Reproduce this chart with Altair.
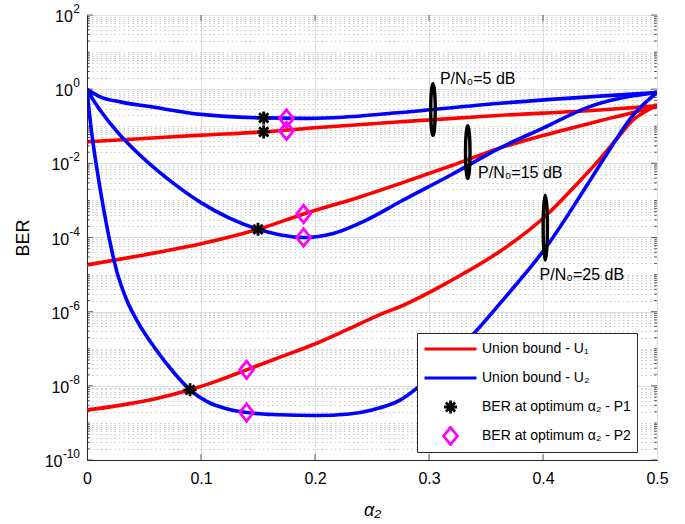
import altair as alt
import pandas as pd

# ---------------------------------------------------------------------------
# Union-bound BER curves versus the power-allocation factor alpha_2
# ---------------------------------------------------------------------------
U1 = "Union bound - U\u2081"
U2 = "Union bound - U\u2082"
P1 = "BER at optimum \u03b1\u2082 - P1"
P2 = "BER at optimum \u03b1\u2082 - P2"

# P/N0 = 5 dB
u1_5_x = [0, 0.05, 0.1, 0.155, 0.2, 0.275, 0.36, 0.45, 0.5]
u1_5_ber = [0.038, 0.0468, 0.0575, 0.0706, 0.0912, 0.132, 0.195, 0.275, 0.355]
u2_5_x = [0, 0.011, 0.03, 0.055, 0.1, 0.155, 0.19, 0.216, 0.275, 0.36, 0.45, 0.5]
u2_5_ber = [1.0, 0.631, 0.447, 0.339, 0.209, 0.168, 0.163, 0.170, 0.234, 0.410, 0.650, 0.805]

# P/N0 = 15 dB
u1_15_x = [0, 0.05, 0.1, 0.15, 0.19, 0.24, 0.275, 0.32, 0.362, 0.4, 0.45, 0.48, 0.5]
u1_15_ber = [1.82e-5, 3.39e-5, 6.76e-5, 1.66e-4, 4.3e-4, 1.26e-3, 2.88e-3,
             8.71e-3, 2.57e-2, 5.62e-2, 0.141, 0.240, 0.355]
u2_15_x = [0, 0.005, 0.0114, 0.026, 0.0404, 0.07, 0.1, 0.125, 0.15, 0.17, 0.19,
           0.216, 0.245, 0.275, 0.32, 0.362, 0.4, 0.441, 0.479, 0.5]
u2_15_ber = [1.0, 0.537, 0.275, 0.0741, 0.0251, 3.98e-3, 8.71e-4, 3.31e-4, 1.66e-4,
             1.17e-4, 1.0e-4, 1.29e-4, 2.95e-4, 9.33e-4, 5.01e-3, 2.57e-2, 0.0891,
             0.339, 0.661, 0.805]

# P/N0 = 25 dB
u1_25_x = [0, 0.03, 0.06, 0.0904, 0.115, 0.14, 0.17, 0.2015, 0.23, 0.26, 0.275,
           0.304, 0.33, 0.362, 0.403, 0.43, 0.45, 0.465, 0.479, 0.49, 0.5]
u1_25_ber = [2.24e-9, 3.02e-9, 4.47e-9, 7.8e-9, 1.38e-8, 2.7e-8, 6.03e-8, 1.41e-7,
             3.47e-7, 9.12e-7, 1.38e-6, 3.80e-6, 1.05e-5, 4.17e-5, 3.98e-4,
             2.82e-3, 1.32e-2, 4.68e-2, 0.148, 0.251, 0.355]
u2_25_x = [0, 0.003, 0.006, 0.01, 0.015, 0.02, 0.026, 0.035, 0.045, 0.06, 0.075,
           0.0904, 0.105, 0.12, 0.14, 0.169, 0.2, 0.23, 0.25, 0.275, 0.29, 0.31,
           0.34, 0.365, 0.403, 0.438, 0.456, 0.479, 0.5]
u2_25_ber = [1.0, 0.126, 2.51e-2, 3.98e-3, 5.01e-4, 7.94e-5, 1.26e-5, 2.0e-6,
             5.01e-7, 1.0e-7, 2.51e-8, 7.8e-9, 3.8e-9, 2.51e-9, 1.9e-9, 1.66e-9,
             1.58e-9, 1.74e-9, 2.24e-9, 4.17e-9, 8.91e-9, 3.16e-8, 2.69e-7,
             2.09e-6, 5.62e-5, 2.40e-3, 1.78e-2, 0.200, 0.805]

# optimum operating points
p1_x = [0.155, 0.155, 0.15, 0.0904]
p1_ber = [0.168, 0.0706, 1.66e-4, 7.8e-9]
p2_x = [0.175, 0.175, 0.19, 0.19, 0.14, 0.14]
p2_ber = [0.162, 0.075, 4.3e-4, 1.0e-4, 2.7e-8, 1.9e-9]

# SNR group annotations (ellipse centre and label anchor)
ann_text = ["P/N\u2080=5 dB", "P/N\u2080=15 dB", "P/N\u2080=25 dB"]
ann_x = [0.3035, 0.334, 0.402]
ann_ber = [0.28, 0.02, 1.85e-4]
ann_label_x = [0.3096, 0.343, 0.397]
ann_label_ber = [1.86, 5.5e-3, 1.0e-5]

# y tick labels: powers of ten
y_tick_exp = [-10, -8, -6, -4, -2, 0, 2]

# ---------------------------------------------------------------------------
W, H = 570, 445
FONT = "Liberation Sans"

curves = [
    (U1, "5", u1_5_x, u1_5_ber), (U2, "5", u2_5_x, u2_5_ber),
    (U1, "15", u1_15_x, u1_15_ber), (U2, "15", u2_15_x, u2_15_ber),
    (U1, "25", u1_25_x, u1_25_ber), (U2, "25", u2_25_x, u2_25_ber),
]
line_rows = []
for series, snr, xs, bs in curves:
    for i, (a, b) in enumerate(zip(xs, bs)):
        line_rows.append({"alpha": a, "ber": b, "series": series,
                          "curve": f"{series}-{snr}", "order": i})
lines_df = pd.DataFrame(line_rows)

marker_df = pd.DataFrame(
    [{"alpha": a, "ber": b, "series": P1} for a, b in zip(p1_x, p1_ber)]
    + [{"alpha": a, "ber": b, "series": P2} for a, b in zip(p2_x, p2_ber)]
)

domain = [U1, U2, P1, P2]
color_scale = alt.Scale(domain=domain, range=["#ff0000", "#0000ff", "#000000", "#ff00ff"])
asterisk = ("M0,-1L0,1M-1,0L1,0M-0.7071,-0.7071L0.7071,0.7071"
            "M-0.7071,0.7071L0.7071,-0.7071")
diamond = "M0,-1L0.8,0L0,1L-0.8,0Z"
shape_scale = alt.Scale(domain=domain, range=["stroke", "stroke", asterisk, diamond])
size_scale = alt.Scale(type="ordinal", domain=domain, range=[2704, 2704, 170, 300])

legend = alt.Legend(title=None, orient="none", legendX=330, legendY=318,
                    strokeColor="#262626", fillColor="white", padding=6,
                    labelFont=FONT, labelFontSize=14, labelColor="black",
                    symbolStrokeWidth=2.8, labelOffset=4, rowPadding=9,
                    clipHeight=20, zindex=3)

# log-axis grid / tick positions
minor_vals, major_vals = [], []
for e in range(-10, 2):
    for m in range(1, 10):
        v = m * 10.0 ** e
        if m == 1 and e % 2 == 0:
            major_vals.append(v)
        else:
            minor_vals.append(v)
major_vals.append(100.0)
grid_vals = sorted(minor_vals + major_vals)

exp_expr = "round(log(datum.value)/LN10)"
major_test = f"abs(log(datum.value)/LN10 - {exp_expr}) < 1e-6 && {exp_expr} % 2 == 0"

x_enc = alt.X("alpha:Q", scale=alt.Scale(domain=[0, 0.5], nice=False, zero=False),
              axis=alt.Axis(values=[0, 0.1, 0.2, 0.3, 0.4, 0.5], format="~g",
                            title="\u03b1\u2082", titleFontStyle="italic",
                            titleFont=FONT, titleFontSize=18, titleFontWeight="normal",
                            titlePadding=15, labelFont=FONT, labelFontSize=16,
                            labelColor="black", labelPadding=10, ticks=False,
                            domainColor="#262626", gridColor="#dedede",
                            labelFlush=False))
y_scale = alt.Scale(type="log", domain=[1e-10, 100], nice=False)
y_enc = alt.Y("ber:Q", scale=y_scale,
              axis=alt.Axis(values=grid_vals, labels=False, title="BER",
                            titleFont=FONT, titleFontSize=18, titleFontWeight="normal",
                            titlePadding=55, ticks=False, domainColor="#262626",
                            gridColor={"condition": {"test": major_test, "value": "#dedede"},
                                       "value": "#c8c8c8"},
                            gridDash={"condition": {"test": major_test, "value": []},
                                      "value": [1.5, 3]}))

base = alt.Chart(lines_df)
lines = base.mark_line(strokeWidth=3.6, interpolate="monotone", clip=True).encode(
    x=x_enc, y=y_enc, detail="curve:N", order="order:Q",
    color=alt.Color("series:N", scale=color_scale, legend=legend),
)

markers = alt.Chart(marker_df).mark_point(filled=False, strokeWidth=2.8, opacity=1).encode(
    x="alpha:Q", y="ber:Q",
    color=alt.Color("series:N", scale=color_scale, legend=legend),
    shape=alt.Shape("series:N", scale=shape_scale, legend=legend),
    size=alt.Size("series:N", scale=size_scale, legend=legend),
)

# inner tick marks on all four sides
tick_df = pd.DataFrame({"v": grid_vals,
                        "major": [v in major_vals for v in grid_vals]})
ticks = []
for major, ln in [(True, 6), (False, 3)]:
    sub = alt.Chart(tick_df).transform_filter(
        alt.datum.major if major else ~alt.datum.major)
    for xpos in [ln / 2, W - ln / 2]:
        ticks.append(sub.mark_tick(orient="horizontal", size=ln, thickness=1,
                                   color="#262626").encode(
            y=alt.Y("v:Q", scale=y_scale), x=alt.value(xpos)))
xt_df = pd.DataFrame({"v": [0.1, 0.2, 0.3, 0.4]})
for ypos in [3, H - 3]:
    ticks.append(alt.Chart(xt_df).mark_tick(orient="vertical", size=6, thickness=1,
                                            color="#262626").encode(
        x=alt.X("v:Q"), y=alt.value(ypos)))

# y tick labels drawn as "10" plus a raised exponent
ylab_df = pd.DataFrame({"e": y_tick_exp})
ylab_base = alt.Chart(ylab_df).transform_calculate(
    v="pow(10, datum.e)",
    es="toString(datum.e)",
    ew="(datum.e < 0 ? 3.6 : 0) + 6.7 * length(toString(abs(datum.e)))",
    lx="-7.5 - datum.ew",
)
ylab_ten = ylab_base.mark_text(align="right", baseline="middle", font=FONT,
                               fontSize=16, color="black", dy=2).encode(
    y=alt.Y("v:Q", scale=y_scale), x=alt.X("lx:Q", scale=None), text=alt.value("10"))
ylab_exp = ylab_base.mark_text(align="right", baseline="middle", font=FONT,
                               fontSize=12, color="black", dy=-6).encode(
    y=alt.Y("v:Q", scale=y_scale), x=alt.value(-7), text="es:N")

# SNR group ellipses and labels
def ellipse_path(rx):
    k = 0.5523
    return (f"M0,-1C{k*rx:.4f},-1,{rx:.4f},{-k},{rx:.4f},0"
            f"C{rx:.4f},{k},{k*rx:.4f},1,0,1"
            f"C{-k*rx:.4f},1,{-rx:.4f},{k},{-rx:.4f},0"
            f"C{-rx:.4f},{-k},{-k*rx:.4f},-1,0,-1Z")

ellipse_style = [(52, 0.087), (53, 0.085), (65, 0.066)]
annots = []
for i in range(3):
    h, rx = ellipse_style[i]
    e_df = pd.DataFrame({"alpha": [ann_x[i]], "ber": [ann_ber[i]]})
    annots.append(alt.Chart(e_df).mark_point(
        shape=ellipse_path(rx), size=h * h, filled=False, stroke="black",
        strokeWidth=3.4, opacity=1).encode(x="alpha:Q", y="ber:Q"))
label_df = pd.DataFrame({"alpha": ann_label_x, "ber": ann_label_ber, "text": ann_text})
labels = alt.Chart(label_df).mark_text(
    align="left", baseline="middle", font=FONT, fontSize=16, color="black").encode(
    x="alpha:Q", y="ber:Q", text="text:N")

chart = alt.layer(lines, *ticks, ylab_ten, ylab_exp, *annots, labels, markers).properties(
    width=W, height=H,
    autosize=alt.AutoSizeParams(type="none"),
    padding={"left": 87, "top": 15, "right": 28, "bottom": 64},
).configure_view(stroke="#262626", strokeWidth=1).configure(background="white")

chart.save("out.html", embed_options={"renderer": "svg", "actions": False})
